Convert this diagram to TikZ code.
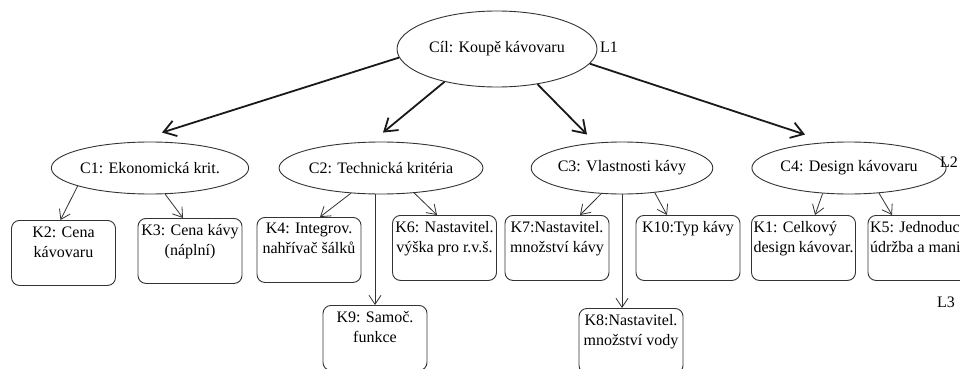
\documentclass[tikz,border=0pt]{standalone}
\usepackage{fontspec}
\setmainfont{Liberation Serif}
\usetikzlibrary{shapes.geometric,arrows.meta}
\newcommand\kcen[1]{\parbox[c][61pt][t]{100pt}{\centering\vspace*{4pt}#1}}
\newcommand\kleft[1]{\parbox[c][61pt][t]{100pt}{\raggedright\vspace*{4pt}#1}}
\begin{document}
\begin{tikzpicture}[x=1pt,y=-1pt,
  font=\fontsize{16pt}{20pt}\selectfont,
  ell/.style={draw=black!80, line width=0.9pt, ellipse, inner sep=0pt},
  kbox/.style={draw=black!80, line width=0.9pt, rounded corners=8pt, inner sep=2pt, anchor=north},
  garrow/.style={draw=black!90, line width=1.8pt, -{Straight Barb[length=12pt,width=16pt]}},
  carrow/.style={draw=black!80, line width=0.8pt, -{Straight Barb[length=9pt,width=12pt]}},
  lab/.style={inner sep=0pt}
]
\useasboundingbox (0,0) rectangle (960,369);
\fill[white] (0,0) rectangle (960,369);
\clip (0,0) rectangle (960,369);

\node[ell, minimum width=200pt, minimum height=76pt] (G) at (497,49) {Cíl: Koupě kávovaru};

\node[ell, minimum width=164pt, minimum height=52pt] (C1) at (150,168) {C1: Ekonomická krit.};
\node[ell, minimum width=168pt, minimum height=52pt] (C2) at (381,168) {C2: Technická kritéria};
\node[ell, minimum width=164pt, minimum height=52pt] (C3) at (622,168) {C3: Vlastnosti kávy};
\node[ell, minimum width=162pt, minimum height=52pt] (C4) at (849,168) {C4: Design kávovaru};

\node[kbox] (K2) at (63.5,220) {\kcen{K2: Cena\\kávovaru}};
\node[kbox] (K3) at (190,218) {\kcen{K3: Cena kávy\\(náplní)}};
\node[kbox] (K4) at (309,217) {\kcen{K4: Integrov.\\nahřívač šálků}};
\node[kbox] (K6) at (444.5,215) {\kcen{K6: Nastavitel.\\výška pro r.v.š.}};
\node[kbox] (K7) at (557,215) {\kcen{K7:Nastavitel.\\množství kávy}};
\node[kbox] (K10) at (688,215) {\kcen{K10:Typ kávy}};
\node[kbox] (K1) at (803.5,215) {\kleft{K1: Celkový\\design kávovar.}};
\node[kbox] (K5) at (920,215) {\kleft{\mbox{K5: Jednoduchá}\\\mbox{údržba a manipulace}}};
\node[kbox] (K9) at (375,305) {\kcen{K9: Samoč.\\funkce}};
\node[kbox] (K8) at (631,308) {\kcen{K8:Nastavitel.\\množství vody}};

\node[lab] (L1) at (609,47) {L1};
\node[lab] (L2) at (949,162) {L2};
\node[lab] (L3) at (946,302) {L3};

\draw[garrow] (G.185) -- ([xshift=12pt,yshift=9pt]C1.north);
\draw[garrow] (G.212) -- ([xshift=2pt,yshift=9pt]C2.north);
\draw[garrow] (G.-41) -- ([xshift=-35pt,yshift=7pt]C3.north);
\draw[garrow] (G.-9) -- ([xshift=-44pt,yshift=7pt]C4.north);

\draw[carrow] (C1.194) -- ([xshift=-3pt]K2.north);
\draw[carrow] (C1.-60) -- ([xshift=-7pt]K3.north);
\draw[carrow] (C2.220) -- ([xshift=11pt]K4.north);
\draw[carrow] (C2.-37) -- ([xshift=-7.5pt]K6.north);
\draw[carrow] (C3.231) -- ([xshift=23pt]K7.north);
\draw[carrow] (C3.-37) -- ([xshift=-21pt]K10.north);
\draw[carrow] (C4.224) -- ([xshift=11.5pt]K1.north);
\draw[carrow] (C4.-40) -- ([xshift=-28pt]K5.north);
\draw[carrow] (K9.north |- C2.south) -- (K9.north);
\draw[carrow] (C3.south) -- (C3.south |- K8.north);
\end{tikzpicture}
\end{document}
